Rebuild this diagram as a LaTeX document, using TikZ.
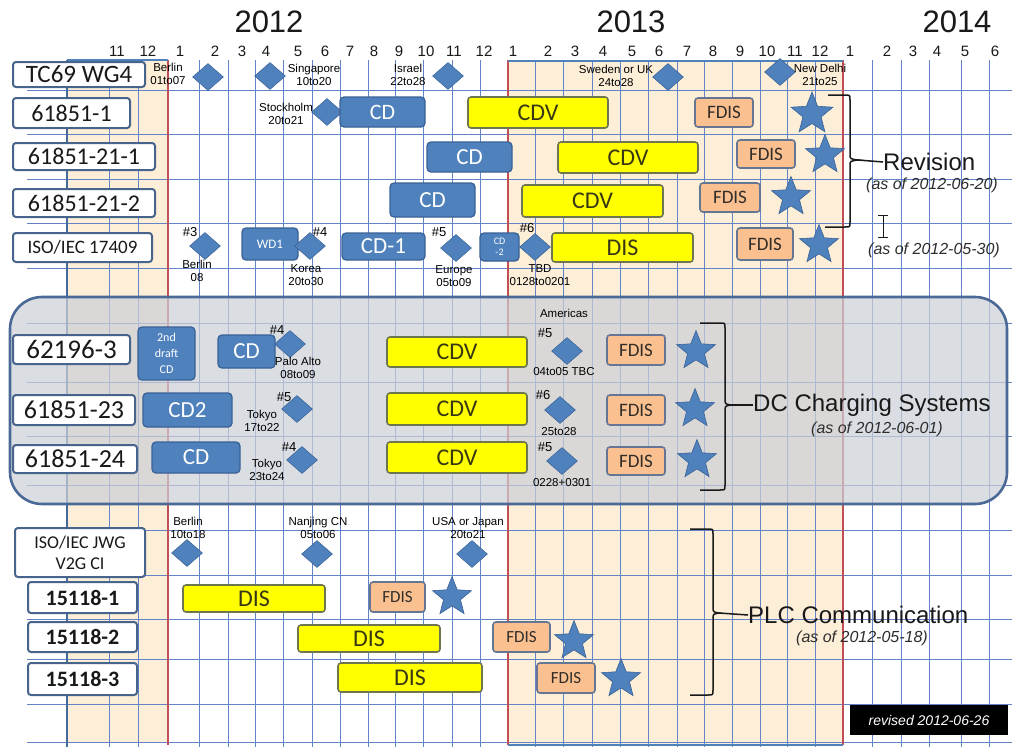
\documentclass[tikz,border=0pt]{standalone}
\usepackage{fontspec}
\setmainfont{Liberation Sans}
\newfontfamily\carl{Carlito}
\usetikzlibrary{shapes.geometric}
\definecolor{gridb}{RGB}{100,130,200}
\definecolor{redl}{RGB}{192,80,85}
\definecolor{beige}{RGB}{252,238,215}
\definecolor{cdfill}{RGB}{79,129,189}
\definecolor{cdbord}{RGB}{58,98,150}
\definecolor{yfill}{RGB}{255,255,0}
\definecolor{ybord}{RGB}{110,118,80}
\definecolor{ytext}{RGB}{55,55,20}
\definecolor{ffill}{RGB}{250,192,144}
\definecolor{fbord}{RGB}{100,118,148}
\definecolor{ftext}{RGB}{50,45,40}
\definecolor{lblc}{RGB}{70,100,140}
\definecolor{trunkc}{RGB}{70,105,155}
\definecolor{greyf}{RGB}{205,208,215}
\definecolor{greyb}{RGB}{75,105,150}
\definecolor{txt}{RGB}{25,25,25}
\definecolor{asofc}{RGB}{45,45,45}
\newcommand\mybox[7]{\node[#1, minimum width={#5-#3}, minimum height={#6-#4}] (#2) at ({(#3+#5)/2},{(#4+#6)/2}) {#7};}
\begin{document}
\begin{tikzpicture}[x=1pt,y=-1pt,
  gridl/.style={draw=gridb, line width=0.8pt},
  redline/.style={draw=redl, line width=2.2pt},
  blueb/.style={draw=cdfill, line width=2.8pt},
  trunk/.style={draw=trunkc, line width=2.6pt},
  lbl/.style={draw=lblc, line width=2pt, fill=white, rounded corners=3pt, inner sep=0pt, text=txt, font=\carl\fontsize{24}{26}\selectfont},
  lblb/.style={lbl, font=\carl\bfseries\fontsize{22}{24}\selectfont},
  cdb/.style={draw=cdbord, fill=cdfill, line width=1.3pt, rounded corners=4pt, inner sep=0pt, text=white, font=\carl\fontsize{23}{24}\selectfont},
  cdv/.style={draw=ybord, fill=yfill, line width=1.6pt, rounded corners=3pt, inner sep=0pt, text=ytext, font=\carl\fontsize{24}{24}\selectfont},
  fdis/.style={draw=fbord, fill=ffill, line width=1.6pt, rounded corners=3pt, inner sep=0pt, text=ftext, font=\carl\fontsize{19}{20}\selectfont},
  mstar/.style={star, star points=5, star point ratio=2.3, fill=cdfill, draw=cdbord, line width=0.6pt, inner sep=0pt, minimum size=41},
  dia/.style={diamond, fill=cdfill, draw=cdbord, line width=0.5pt, inner sep=0pt, minimum width=31, minimum height=27},
  sm/.style={font=\fontsize{11.5}{13}\selectfont, align=center, inner sep=0pt, text=black},
  hsh/.style={font=\fontsize{13}{13}\selectfont, inner sep=0pt, text=black},
  mon/.style={font=\fontsize{15}{15}\selectfont, inner sep=0pt, text=txt},
  yr/.style={font=\fontsize{31}{31}\selectfont, inner sep=0pt, text=txt},
  big/.style={font=\fontsize{24}{24}\selectfont, inner sep=0pt, anchor=west, text=txt},
  asof/.style={font=\itshape\fontsize{16}{16}\selectfont, inner sep=0pt, text=asofc},
  brc/.style={draw=txt, line width=1.5pt}
]
\useasboundingbox (0,0) rectangle (1012,747);
\fill[white] (0,0) rectangle (1012,747);
% shaded year regions
\fill[beige] (67,60) rectangle (168,742);
\fill[beige] (508,60) rectangle (843,745);
% grid
\foreach \x in {109,138,199,228,255,283,312,340,368,395,423,452,480,535,563,592,620,648,677,704,732,760,787,815,872,901,929,961,989}
  \draw[gridl] (\x,60) -- (\x,747);
\foreach \y in {90,134,179,223,268,323,382,436,485,530,575,619,659,704,742}
  \draw[gridl] (27,\y) -- (1012,\y);
\foreach \x in {168,508,843}
  \draw[redline] (\x,60) -- (\x,745);
\draw[blueb] (67,60) -- (168,60);
\draw[blueb] (508,61) -- (843,61);
\draw[blueb] (508,745) -- (843,745);
% headers
\node[yr] (y12) at (269,22) {2012};
\node[yr] (y13) at (631,22) {2013};
\node[yr] (y14) at (957,22) {2014};
\foreach \x/\m in {117/11,148/12,180/1,215/2,242/3,266/4,298/5,325/6,350/7,374/8,399/9,426/10,454/11,484/12,513/1,548/2,575/3,603/4,632/5,659/6,687/7,713/8,740/9,767/10,795/11,820/12,850/1,887/2,913/3,937/4,965/5,995/6}
  \node[mon] at (\x,51) {\m};
% trunk
\coordinate (trtop) at (67,60);
\coordinate (trbot) at (67,747);
\draw[trunk] (trtop) -- (trbot);
% grey group box
\draw[draw=greyb, line width=2.6pt, fill=greyf, fill opacity=0.72, rounded corners=32pt] (10,297) rectangle (1007,504);
% label boxes
\mybox{lbl, font=\carl\fontsize{25}{26}\selectfont}{tc}{13}{62}{145}{87}{TC69 WG4}
\mybox{lbl}{l1}{13}{98}{130}{128}{61851-1}
\mybox{lbl}{l2}{13}{143}{155}{170}{61851-21-1}
\mybox{lbl}{l3}{13}{189}{155}{217}{61851-21-2}
\mybox{lbl, font=\carl\fontsize{19}{20}\selectfont}{l4}{13}{233}{152}{262}{ISO/IEC 17409}
\mybox{lbl, font=\carl\fontsize{27}{28}\selectfont}{l5}{13}{335}{130}{364}{62196-3}
\mybox{lbl, font=\carl\fontsize{26}{27}\selectfont}{l6}{13}{395}{135}{425}{61851-23}
\mybox{lbl, font=\carl\fontsize{26}{27}\selectfont}{l7}{13}{445}{137}{473}{61851-24}
\mybox{lbl, font=\carl\fontsize{18}{21}\selectfont, align=center}{l8}{15}{528}{145}{577}{ISO/IEC JWG\\V2G CI}
\mybox{lblb}{l9}{28}{582}{137}{613}{15118-1}
\mybox{lblb}{l10}{28}{622}{137}{652}{15118-2}
\mybox{lblb}{l11}{28}{663}{137}{695}{15118-3}
% TC69 WG4 meetings
\node[sm] (m1) at (168,74) {Berlin\\01to07};
\node[dia] (dm1) at (208,77) {};
\node[dia] (dm2) at (270,76) {};
\node[sm] (m2) at (314,75) {Singapore\\10to20};
\node[sm] (m3) at (408,75) {Israel\\22to28};
\node[dia] (dm3) at (448,76) {};
\node[sm] (m4) at (616,76) {Sweden or UK\\24to28};
\node[dia] (dm4) at (668,77) {};
\node[dia] (dm5) at (780,72) {};
\node[sm] (m5) at (820,75) {New Delhi\\21to25};
% 61851-1
\node[sm] (s1t) at (286,114) {Stockholm\\20to21};
\node[dia] (s1d) at (327,112) {};
\mybox{cdb, font=\carl\fontsize{22}{24}\selectfont}{a1}{340}{97}{425}{127}{CD}
\mybox{cdv}{a2}{468}{97}{608}{128}{CDV}
\mybox{fdis}{a3}{695}{98}{753}{127}{FDIS}
\node[mstar, minimum size=44] (a4) at (812,114) {};
% 61851-21-1
\mybox{cdb}{b1}{427}{142}{512}{172}{CD}
\mybox{cdv}{b2}{558}{142}{698}{173}{CDV}
\mybox{fdis}{b3}{737}{140}{795}{168}{FDIS}
\node[mstar] (b4) at (825,155) {};
% 61851-21-2
\mybox{cdb}{c1}{390}{183}{475}{217}{CD}
\mybox{cdv}{c2}{522}{185}{663}{217}{CDV}
\mybox{fdis}{c3}{700}{183}{760}{212}{FDIS}
\node[mstar] (c4) at (791,197) {};
% ISO/IEC 17409
\node[hsh] (e3h) at (190,232) {\#3};
\node[dia] (e3d) at (205,246) {};
\node[sm] (e3t) at (197,271) {Berlin\\08};
\mybox{cdb, font=\carl\fontsize{13}{13}\selectfont}{e1}{242}{228}{298}{260}{WD1}
\node[dia] (e4d) at (310,246) {};
\node[hsh] (e4h) at (320,232) {\#4};
\node[sm] (e4t) at (306,275) {Korea\\20to30};
\mybox{cdb}{e2}{342}{233}{425}{260}{CD-1}
\node[hsh] (e5h) at (439,232) {\#5};
\node[dia] (e5d) at (456,248) {};
\node[sm] (e5t) at (454,276) {Europe\\05to09};
\mybox{cdb, font=\carl\fontsize{10}{11}\selectfont, align=center}{e6}{480}{233}{519}{261}{CD\\-2}
\node[hsh] (e6h) at (527,228) {\#6};
\node[dia] (e6d) at (535,247) {};
\node[sm] (e6t) at (540,275) {TBD\\0128to0201};
\mybox{cdv}{e7}{552}{233}{693}{262}{DIS}
\mybox{fdis}{e8}{737}{228}{793}{260}{FDIS}
\node[mstar] (e9) at (819,245) {};
% Revision brace
\draw[brc] (828,95) -- (845,95) .. controls (850,95) .. (850,100) -- (850,154) .. controls (850,159) .. (858,160) .. controls (850,161) .. (850,166) -- (850,222) .. controls (850,227) .. (845,227) -- (825,227);
\coordinate (rvtip) at (858,160);
\node[big] (rev) at (883,162) {Revision};
\draw[brc] (rvtip) -- (rev.west);
\node[asof] (rev2) at (932,185) {(as of 2012-06-20)};
\draw[draw=txt, line width=1pt] (878,215) -- (888,215) (883,215) -- (883,237) (878,237) -- (888,237);
\node[asof] (rev3) at (934,250) {(as of 2012-05-30)};
% 62196-3
\mybox{cdb, font=\carl\fontsize{12}{16}\selectfont, align=center}{f1}{138}{327}{195}{380}{2nd\\draft\\CD}
\mybox{cdb}{f2}{218}{335}{275}{368}{CD}
\node[hsh] (f3h) at (277,330) {\#4};
\node[dia] (f3d) at (290,344) {};
\node[sm] (f3t) at (298,368) {Palo Alto\\08to09};
\mybox{cdv}{f4}{387}{337}{527}{367}{CDV}
\node[sm] (f5a) at (564,313) {Americas};
\node[hsh] (f5h) at (545,333) {\#5};
\node[dia] (f5d) at (567,351) {};
\node[sm] (f5t) at (564,372) {04to05 TBC};
\mybox{fdis}{f6}{607}{335}{665}{365}{FDIS}
\node[mstar] (f7) at (696,351) {};
% 61851-23
\mybox{cdb}{g1}{143}{393}{232}{427}{CD2}
\node[hsh] (g2h) at (284,397) {\#5};
\node[dia] (g2d) at (297,409) {};
\node[sm] (g2t) at (262,421) {Tokyo\\17to22};
\mybox{cdv}{g3}{387}{393}{527}{425}{CDV}
\node[hsh] (g4h) at (543,395) {\#6};
\node[dia] (g4d) at (560,410) {};
\node[sm] (g4t) at (559,432) {25to28};
\mybox{fdis}{g5}{607}{395}{665}{425}{FDIS}
\node[mstar] (g6) at (695,409) {};
% 61851-24
\mybox{cdb}{h1}{152}{442}{240}{473}{CD}
\node[hsh] (h2h) at (289,447) {\#4};
\node[dia] (h2d) at (302,460) {};
\node[sm] (h2t) at (267,470) {Tokyo\\23to24};
\mybox{cdv}{h3}{387}{442}{527}{473}{CDV}
\node[hsh] (h4h) at (545,447) {\#5};
\node[dia] (h4d) at (562,461) {};
\node[sm] (h4t) at (562,483) {0228+0301};
\mybox{fdis}{h5}{607}{447}{665}{475}{FDIS}
\node[mstar] (h6) at (697,460) {};
% DC brace
\draw[brc] (700,323) -- (720,323) .. controls (725,323) .. (725,328) -- (725,399) .. controls (725,404) .. (731,405) .. controls (725,406) .. (725,411) -- (725,485) .. controls (725,490) .. (720,490) -- (700,490);
\coordinate (dctip) at (731,405);
\node[big] (dc) at (753,405) {DC Charging Systems};
\draw[brc] (dctip) -- (dc.west);
\node[asof] (dc2) at (877,429) {(as of 2012-06-01)};
% JWG
\node[sm] (j1t) at (188,528) {Berlin\\10to18};
\node[dia] (j1d) at (187,553) {};
\node[sm] (j2t) at (318,528) {Nanjing CN\\05to06};
\node[dia] (j2d) at (317,554) {};
\node[sm] (j3t) at (468,528) {USA or Japan\\20to21};
\node[dia] (j3d) at (472,554) {};
% 15118
\mybox{cdv}{k1}{183}{585}{325}{612}{DIS}
\mybox{fdis, font=\carl\fontsize{17}{18}\selectfont}{k2}{370}{582}{425}{612}{FDIS}
\node[mstar] (k3) at (452,597) {};
\mybox{cdv}{n1}{298}{625}{440}{652}{DIS}
\mybox{fdis, font=\carl\fontsize{17}{18}\selectfont}{n2}{493}{622}{550}{652}{FDIS}
\node[mstar] (n3) at (574,641) {};
\mybox{cdv}{p1}{338}{663}{482}{692}{DIS}
\mybox{fdis, font=\carl\fontsize{17}{18}\selectfont}{p2}{537}{663}{595}{693}{FDIS}
\node[mstar] (p3) at (621,679) {};
% PLC brace
\draw[brc] (690,529) -- (708,529) .. controls (713,529) .. (713,534) -- (713,607) .. controls (713,612) .. (719,613) .. controls (713,614) .. (713,619) -- (713,690) .. controls (713,695) .. (708,695) -- (690,695);
\coordinate (plctip) at (719,613);
\node[big] (plc) at (748,615) {PLC Communication};
\draw[brc] (plctip) -- (plc.west);
\node[asof] (plc2) at (862,638) {(as of 2012-05-18)};
% revised stamp
\node[fill=black, text=white, font=\itshape\fontsize{14}{14}\selectfont, minimum width=158, minimum height=30, inner sep=0pt] (rvs) at (929,720) {revised 2012-06-26};
\end{tikzpicture}
\end{document}
